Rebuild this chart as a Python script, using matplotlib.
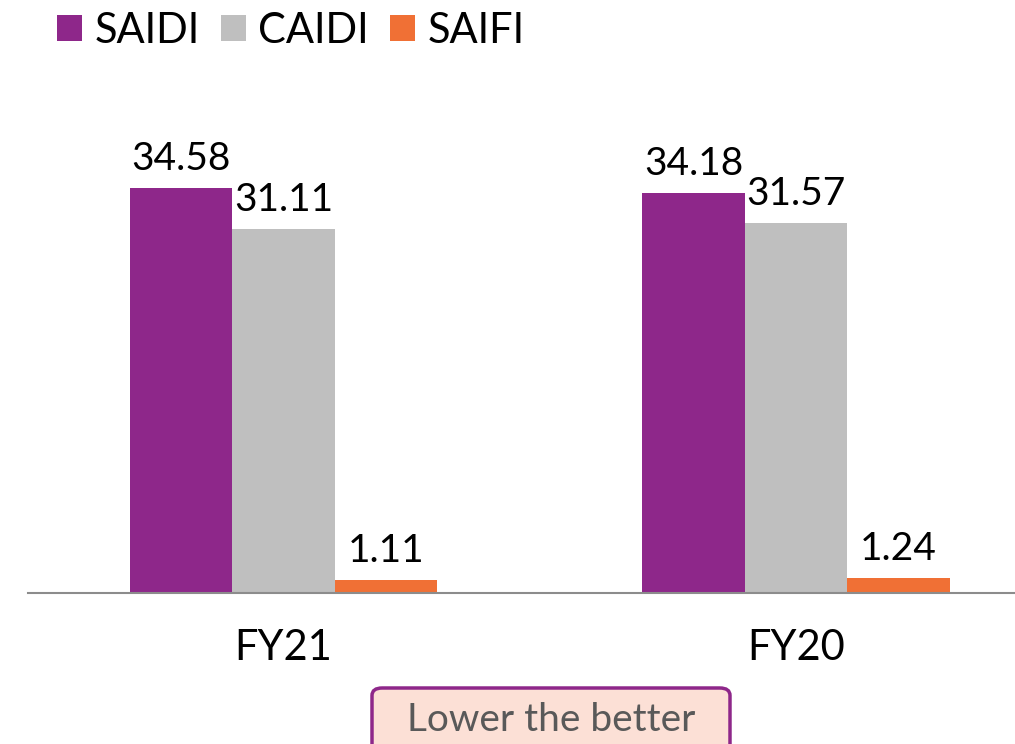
import numpy as np
import matplotlib.pyplot as plt
from matplotlib.patches import FancyBboxPatch, Patch

plt.rcParams['font.family'] = ['Lato', 'DejaVu Sans']

# data
years = ['FY21', 'FY20']
saidi = [34.58, 34.18]
caidi = [31.11, 31.57]
saifi = [1.11, 1.24]
series_names = ['SAIDI', 'CAIDI', 'SAIFI']
colors = ['#8E278A', '#BFBFBF', '#F07035']

fig = plt.figure(figsize=(10.15, 7.44), dpi=100)
ax = fig.add_axes([28 / 1015, 151 / 744, 987 / 1015, 493 / 744])

x = np.arange(len(years))
width = 0.2
for i, (vals, col) in enumerate(zip([saidi, caidi, saifi], colors)):
    pos = x + (i - 1) * width
    bars = ax.bar(pos, vals, width=width, color=col, linewidth=0)
    for b, v in zip(bars, vals):
        ax.annotate(f'{v:.2f}', (b.get_x() + b.get_width() / 2, v),
                    xytext=(0, 13), textcoords='offset points',
                    ha='center', va='baseline', fontsize=28, color='black')

ax.set_xlim(-0.4985, 1.427)
ax.set_ylim(0, 42.1)
ax.set_xticks(x)
ax.set_xticklabels(years, fontsize=30)
ax.tick_params(axis='x', length=0, pad=26)
ax.set_yticks([])
for s in ['top', 'right', 'left']:
    ax.spines[s].set_visible(False)
ax.spines['bottom'].set_color('#8C8C8C')
ax.spines['bottom'].set_linewidth(1.5)

handles = [Patch(facecolor=c, edgecolor='none') for c in colors]
fig.legend(handles, series_names, loc='upper left', bbox_to_anchor=(0.036, 1.012),
           ncol=3, frameon=False, fontsize=30, handlelength=0.6, handleheight=0.6,
           handletextpad=0.3, columnspacing=0.5, borderaxespad=0.1)

# note box
box = FancyBboxPatch((372 / 1015, -20 / 744), 358 / 1015, 76 / 744,
                     boxstyle='round,pad=0,rounding_size=0.01',
                     transform=fig.transFigure, facecolor='#FCE0D6',
                     edgecolor='#8E278A', linewidth=2.5, clip_on=False)
fig.patches.append(box)
fig.text(551 / 1015, 24 / 744, 'Lower the better', ha='center', va='center',
         fontsize=28, color='#595959')

fig.savefig('out.png', dpi=100)
